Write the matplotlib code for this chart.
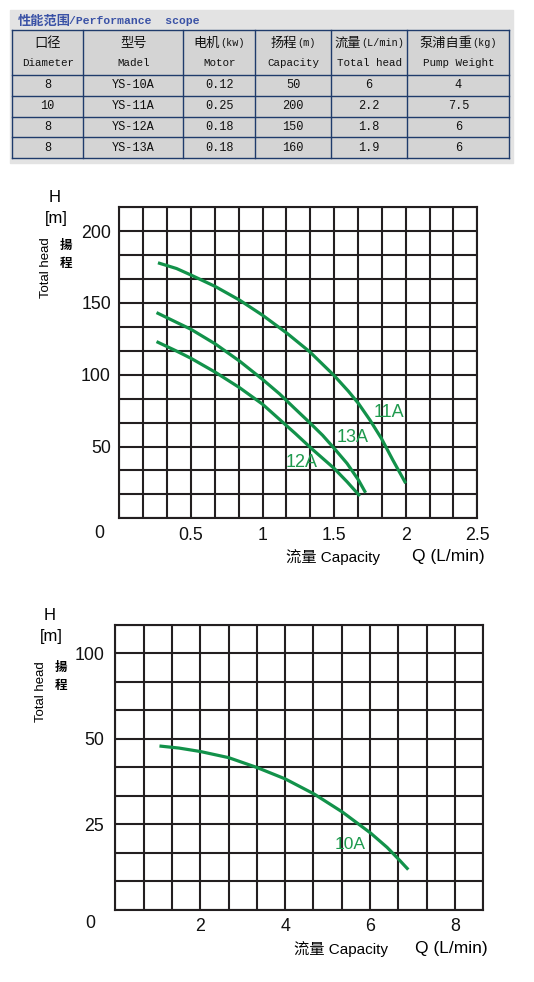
import numpy as np
import matplotlib
matplotlib.use('Agg')
import matplotlib.pyplot as plt
from matplotlib.patches import Rectangle
from matplotlib.ticker import FixedLocator, NullFormatter

W, H = 534, 982

# ---- table data ----
col_cn = ['口径', '型号', '电机', '扬程', '流量', '泵浦自重']
col_unit = ['', '', '(kw)', '(m)', '(L/min)', '(kg)']
col_en = ['Diameter', 'Madel', 'Motor', 'Capacity', 'Total head', 'Pump Weight']
diameter = ['8', '10', '8', '8']
model = ['YS-10A', 'YS-11A', 'YS-12A', 'YS-13A']
motor = ['0.12', '0.25', '0.18', '0.18']
capacity = ['50', '200', '150', '160']
total_head = ['6', '2.2', '1.8', '1.9']
weight = ['4', '7.5', '6', '6']

# ---- curve data ----
q_11a = [0.27, 0.4, 0.5, 0.67, 0.84, 1.0, 1.17, 1.33, 1.5, 1.6, 1.67, 1.75, 1.83, 1.91, 2.0]
h_11a = [178, 174, 169.5, 161.5, 152, 141.5, 129, 116, 99.5, 88.5, 80, 68.5, 55.7, 40.6, 24.4]
q_13a = [0.26, 0.4, 0.5, 0.67, 0.84, 1.0, 1.12, 1.22, 1.33, 1.42, 1.5, 1.59, 1.67, 1.72]
h_13a = [143.3, 136.5, 131.7, 121.5, 109.5, 96.8, 86.6, 77.0, 66.6, 57.8, 48.8, 38.3, 26.7, 17.8]
q_12a = [0.26, 0.4, 0.5, 0.67, 0.84, 1.0, 1.12, 1.23, 1.34, 1.42, 1.5, 1.59, 1.68]
h_12a = [123.1, 116.5, 111.5, 101.8, 91.0, 79.5, 68.8, 59.0, 48.8, 41.8, 34.8, 25.5, 15.5]
q_10a = [1.04, 1.5, 2.0, 2.67, 3.34, 4.0, 4.68, 5.35, 6.01, 6.4, 6.69, 6.9]
h_10a = [47.9, 47.3, 46.3, 44.5, 41.6, 38.3, 33.9, 28.6, 22.5, 18.3, 14.6, 11.8]

GRID = '#231f20'
CURVE = '#12924a'
LABEL_G = '#1f9a4e'
SANS = ['Liberation Sans', 'Noto Sans CJK SC']
MONO = ['Liberation Mono', 'Noto Sans CJK SC']
CJK = ['Noto Sans CJK SC', 'DejaVu Sans']

fig = plt.figure(figsize=(W / 100, H / 100), dpi=100)
renderer = fig.canvas.get_renderer()


def fx(x):
    return x / W


def fy(y):
    return 1 - y / H


# ---- table panel, drawn in pixel coordinates ----
tab = fig.add_axes([0, 0, 1, 1])
tab.set_xlim(0, W)
tab.set_ylim(H, 0)
tab.axis('off')
tab.add_patch(Rectangle((10, 10), 503, 153, color='#e3e3e3', zorder=0))
tab.text(18, 20.5, '性能范围', family=CJK, fontsize=9.5, fontweight='bold',
         color='#3a52a6', va='center', ha='left')
tab.text(69, 20.5, '/Performance  scope', family=MONO, fontsize=8.2,
         fontweight='bold', color='#3a52a6', va='center', ha='left')

xb = [12, 83.3, 183.3, 255, 331, 407.3, 509.3]
yb = [30, 74.7, 96, 116.7, 137.3, 158.3]
tab.add_patch(Rectangle((xb[0], yb[0]), xb[-1] - xb[0], yb[-1] - yb[0],
                        facecolor='#d4d4d4', edgecolor='none', zorder=1))
for x in xb:
    tab.plot([x, x], [yb[0], yb[-1]], color='#1f3b6b', lw=1.0, zorder=2)
for y in yb:
    tab.plot([xb[0], xb[-1]], [y, y], color='#1f3b6b', lw=1.0, zorder=2)

rows = list(zip(diameter, model, motor, capacity, total_head, weight))
for i in range(6):
    cx = (xb[i] + xb[i + 1]) / 2
    # chinese name followed by a smaller unit, centred together
    t_cn = tab.text(0, 43, col_cn[i], family=CJK, fontsize=9.5, color='#111111',
                    ha='left', va='center')
    t_u = tab.text(0, 43, col_unit[i], family=MONO, fontsize=7.3, color='#111111',
                   ha='left', va='center')
    w_cn = t_cn.get_window_extent(renderer).width
    w_u = t_u.get_window_extent(renderer).width if col_unit[i] else 0
    x0 = cx - (w_cn + w_u) / 2
    t_cn.set_x(x0)
    t_u.set_x(x0 + w_cn)
    tab.text(cx, 63, col_en[i], family=MONO, fontsize=7.8, color='#111111',
             ha='center', va='center')
    for r, row in enumerate(rows):
        cy = (yb[r + 1] + yb[r + 2]) / 2
        tab.text(cx, cy, row[i], family=MONO, fontsize=8.6, color='#111111',
                 ha='center', va='center')


def style_axes(ax, xgrid, ygrid, xmaj, ymaj, ylabels, xlabels):
    ax.xaxis.set_minor_locator(FixedLocator(xgrid))
    ax.yaxis.set_minor_locator(FixedLocator(ygrid))
    ax.xaxis.set_minor_formatter(NullFormatter())
    ax.yaxis.set_minor_formatter(NullFormatter())
    ax.set_xticks(xmaj)
    ax.set_xticklabels(xlabels)
    ax.set_yticks(ymaj)
    ax.set_yticklabels(ylabels)
    ax.grid(which='both', color=GRID, lw=1.5)
    ax.tick_params(which='both', length=0)
    ax.tick_params(axis='x', pad=6)
    ax.tick_params(axis='y', pad=6)
    for lab in ax.get_xticklabels() + ax.get_yticklabels():
        lab.set_family(SANS)
        lab.set_fontsize(12.8)
        lab.set_color('#111111')
    for s in ax.spines.values():
        s.set_color(GRID)
        s.set_linewidth(1.5)
    ax.set_axisbelow(True)


# ---- chart 1 ----
ax1 = fig.add_axes([fx(119.3), fy(518.3), (477.3 - 119.3) / W, (518.3 - 207.3) / H])
ax1.set_xlim(0, 2.5)
ax1.set_ylim(0, 650 / 3)
style_axes(ax1, np.arange(16) / 6, np.arange(14) * 50 / 3,
           [0.5, 1, 1.5, 2, 2.5], [50, 100, 150, 200],
           ['50', '100', '150', '200'], ['0.5', '1', '1.5', '2', '2.5'])
ax1.plot(q_11a, h_11a, color=CURVE, lw=2.3, solid_capstyle='butt')
ax1.plot(q_13a, h_13a, color=CURVE, lw=2.3, solid_capstyle='butt')
ax1.plot(q_12a, h_12a, color=CURVE, lw=2.3, solid_capstyle='butt')
ax1.text(1.88, 73.6, '11A', family=SANS, fontsize=13, color=LABEL_G, ha='center', va='center')
ax1.text(1.63, 56.4, '13A', family=SANS, fontsize=13, color=LABEL_G, ha='center', va='center')
ax1.text(1.27, 39.0, '12A', family=SANS, fontsize=13, color=LABEL_G, ha='center', va='center')

# ---- chart 2 (y axis: 25 per 3 rows below 50, 50 per 3 rows above) ----
def fwd(y):
    y = np.asarray(y, dtype=float)
    return np.where(y <= 50, y * 3 / 25, 6 + (y - 50) * 3 / 50)


def inv(r):
    r = np.asarray(r, dtype=float)
    return np.where(r <= 6, r * 25 / 3, 50 + (r - 6) * 50 / 3)


ax2 = fig.add_axes([fx(115.3), fy(910), (483.3 - 115.3) / W, (910 - 624.7) / H])
ax2.set_yscale('function', functions=(fwd, inv))
ax2.set_xlim(0, 26 / 3)
ax2.set_ylim(0, float(inv(10)))
style_axes(ax2, np.arange(14) * 2 / 3, inv(np.arange(11)),
           [2, 4, 6, 8], [25, 50, 100],
           ['25', '50', '100'], ['2', '4', '6', '8'])
ax2.tick_params(axis='y', pad=8)
ax2.plot(q_10a, h_10a, color=CURVE, lw=2.3, solid_capstyle='butt')
ax2.text(5.53, 19.2, '10A', family=SANS, fontsize=12.5, color=LABEL_G, ha='center', va='center')

# ---- axis captions ----
for ax, zero_off, hx, hy, thx, thy, cjx, cjy, capx, capy, qx in [
        (ax1, (-20, -15), 55, 198, 46, 268, 66, 245, 333, 557, 448),
        (ax2, (-25, -13), 50, 616, 41, 692, 61, 668, 341, 949, 451)]:
    ax.annotate('0', xy=(0, 0), xycoords='axes fraction', xytext=zero_off,
                textcoords='offset pixels', family=SANS, fontsize=12.8,
                color='#111111', ha='center', va='center')
    fig.text(fx(hx), fy(hy), 'H', family=SANS, fontsize=12, ha='center', va='center')
    fig.text(fx(hx + 1), fy(hy + 21), '[m]', family=SANS, fontsize=12, ha='center', va='center')
    fig.text(fx(thx), fy(thy), 'Total head', family=SANS, fontsize=9.5,
             rotation=90, ha='center', va='center')
    fig.text(fx(cjx), fy(cjy), '揚', family=CJK, fontsize=9, fontweight='bold',
             ha='center', va='center')
    fig.text(fx(cjx), fy(cjy + 18), '程', family=CJK, fontsize=9, fontweight='bold',
             ha='center', va='center')
    fig.text(fx(capx), fy(capy), '流量 Capacity', family=SANS, fontsize=11,
             ha='center', va='center')
    fig.text(fx(qx), fy(capy), 'Q (L/min)', family=SANS, fontsize=12.5,
             ha='center', va='center')

fig.savefig('out.png', dpi=100)
